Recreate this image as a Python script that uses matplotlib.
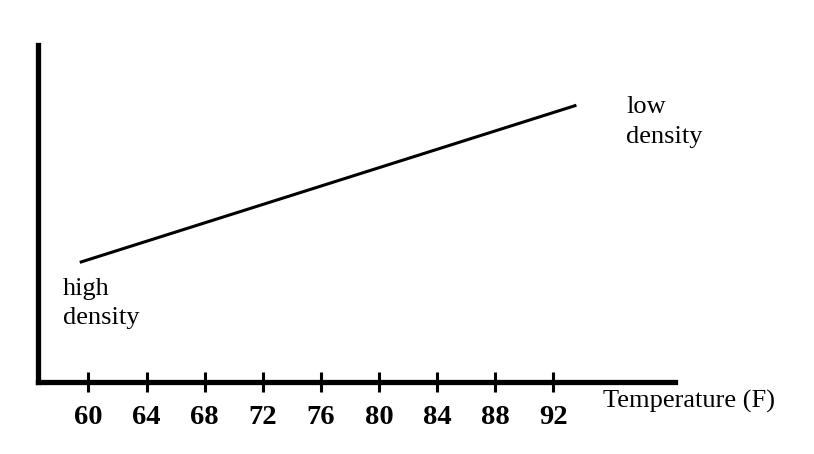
import matplotlib
matplotlib.use("Agg")
import matplotlib.pyplot as plt

temps = [59.4, 93.6]
density = [0.354, 0.821]
tick_vals = [60, 64, 68, 72, 76, 80, 84, 88, 92]
tick_labels = [str(v) for v in tick_vals]

W, H = 814, 454
fig = plt.figure(figsize=(W / 100, H / 100), dpi=100)
ax = fig.add_axes([37.5 / W, (H - 381.5) / H, (675 - 37.5) / W, (381.5 - 45) / H])

ax.plot(temps, density, color="black", linewidth=2.2, solid_capstyle="butt")
ax.set_xlim(56.49, 100.39)
ax.set_ylim(0, 1)

for s in ["top", "right"]:
    ax.spines[s].set_visible(False)
ax.spines["left"].set_linewidth(3.8)
ax.spines["bottom"].set_linewidth(3.8)
ax.spines["left"].set_capstyle("projecting")
ax.spines["bottom"].set_capstyle("projecting")

ax.set_yticks([])
ax.set_xticks(tick_vals)
ax.set_xticklabels(tick_labels, fontfamily="Liberation Serif", fontweight="bold", fontsize=20.5)
ax.tick_params(axis="x", direction="inout", length=14, width=2.2, pad=10)

serif = "Liberation Serif"
fig.text(603 / W, (H - 408) / H, "Temperature (F)", fontfamily=serif, fontsize=19,
         ha="left", va="baseline")
fig.text(63 / W, (H - 295) / H, "high", fontfamily=serif, fontsize=19, ha="left", va="baseline")
fig.text(63 / W, (H - 324) / H, "density", fontfamily=serif, fontsize=19, ha="left", va="baseline")
fig.text(626 / W, (H - 113) / H, "low", fontfamily=serif, fontsize=19, ha="left", va="baseline")
fig.text(626 / W, (H - 143) / H, "density", fontfamily=serif, fontsize=19, ha="left", va="baseline")

fig.savefig("out.png", dpi=100)
